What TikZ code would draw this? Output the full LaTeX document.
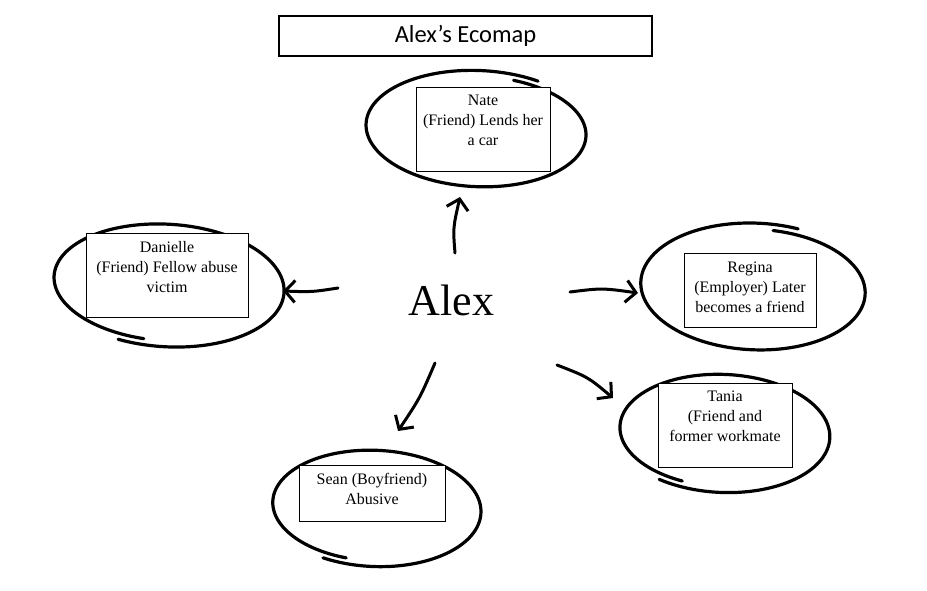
\documentclass[tikz,border=0pt]{standalone}
\usepackage{fontspec}
\setmainfont{Liberation Serif}
\newfontfamily\titlefont{Carlito}
\usetikzlibrary{arrows.meta}
\tikzset{
  loopline/.style={line width=3.2pt, line cap=round, line join=round},
  infobox/.style={draw, line width=0.9pt, fill=white, inner sep=0pt},
  infotext/.style={anchor=north, align=center, inner sep=0pt, font=\fontsize{16}{20}\selectfont},
  tie/.style={line width=3pt, line cap=round, -{Straight Barb[length=10pt,width=22pt,line width=3pt]}},
}
\newcommand\handloop[6]{%
  \draw[loopline, rotate around={#6:(#1,#2)}] plot[domain=0:372, samples=140, smooth, variable=\t]
    ({#1+#3*(0.96+0.0002*\t)*cos(\t+#5)},{#2+#4*(0.95+0.00027*\t)*sin(\t+#5)});}
\begin{document}
\begin{tikzpicture}[x=1pt,y=-1pt]
\useasboundingbox (0,0) rectangle (927,590);
% title
\node[draw, line width=1.2pt, minimum width=373pt, minimum height=40pt, inner sep=0pt,
      font=\titlefont\fontsize{24.5}{28}\selectfont] (title) at (465.5,36) {Alex’s Ecomap};
% loops
\handloop{478}{130}{111}{57}{-72}{-3}
\handloop{167}{284}{116}{60}{100}{-4}
\handloop{755}{288}{113}{62}{-82}{-3}
\handloop{723}{432}{106}{58}{112}{-3}
\handloop{375}{507}{105}{57}{105}{-3}
% boxes
\node[infobox, minimum width=134pt, minimum height=84pt] (nate) at (483,129) {};
\node[infotext] (natet) at ([yshift=-8pt]nate.north) {Nate\\(Friend) Lends her\\a car};
\node[infobox, minimum width=162pt, minimum height=84pt] (dan) at (167,275) {};
\node[infotext] (dant) at ([yshift=-9pt]dan.north) {Danielle\\(Friend) Fellow abuse\\victim};
\node[infobox, minimum width=132pt, minimum height=74pt] (reg) at (750,290.5) {};
\node[infotext] (regt) at ([yshift=-9pt]reg.north) {Regina\\(Employer) Later\\becomes a friend};
\node[infobox, minimum width=134pt, minimum height=84pt] (tan) at (725,425) {};
\node[infotext] (tant) at ([yshift=-8pt]tan.north) {Tania\\(Friend and\\former workmate};
\node[infobox, minimum width=146pt, minimum height=56pt] (sean) at (372,493) {};
\node[infotext] (seant) at ([yshift=-8pt]sean.north) {Sean (Boyfriend)\\Abusive};
% centre
\node[anchor=base, inner sep=0pt, font=\fontsize{44}{48}\selectfont] (alex) at (451.5,315) {Alex};
% arrow ends
\coordinate (a1s) at (455,253); \coordinate (a1e) at (460,197);
\coordinate (a2s) at (338,288); \coordinate (a2e) at (283,291);
\coordinate (a3s) at (570,292); \coordinate (a3e) at (638,293);
\coordinate (a4s) at (557,365); \coordinate (a4e) at (613,398);
\coordinate (a5s) at (435,363); \coordinate (a5e) at (398,431);
\draw[tie] (a1s) .. controls (453,228) .. (a1e);
\draw[tie] (a2s) .. controls (312,292) .. (a2e);
\draw[tie] (a3s) .. controls (602,288) .. (a3e);
\draw[tie] (a4s) .. controls (588,377) .. (a4e);
\draw[tie] (a5s) .. controls (420,398) .. (a5e);
\end{tikzpicture}
\end{document}
